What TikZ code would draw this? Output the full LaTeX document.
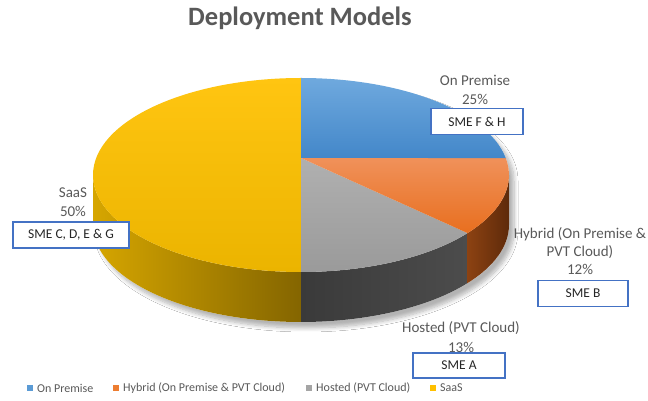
\documentclass[tikz,border=0pt]{standalone}
\usepackage{fontspec}
\setmainfont{Carlito}
\usetikzlibrary{calc,shadows.blur}
\definecolor{txtgray}{HTML}{595959}
\definecolor{boxblue}{HTML}{4472C4}
\definecolor{legblue}{HTML}{5B9BD5}
\definecolor{legorange}{HTML}{ED7D31}
\definecolor{leggray}{HTML}{A5A5A5}
\definecolor{legyellow}{HTML}{FFC000}
\tikzset{
  lbl/.style={text=txtgray, align=center, font=\fontsize{15}{19}\selectfont, inner sep=0pt},
  smebox/.style={draw=boxblue, line width=1.6pt, fill=white, text=black!85, font=\fontsize{13.5}{16}\selectfont, minimum height=26pt, inner sep=0pt},
  legtxt/.style={text=txtgray, font=\fontsize{12}{14}\selectfont, anchor=west, inner sep=0pt},
  legsq/.style={minimum size=6pt, inner sep=0pt},
  er/.style={x radius=208, y radius=97}
}
\begin{document}
\begin{tikzpicture}[x=1pt,y=1pt]
\useasboundingbox (0,0) rectangle (648,401);
\fill[white] (0,0) rectangle (648,401);
\coordinate (C) at (301,226);
\coordinate (P) at (301,243);
\def\ta{10.09}
\def\tb{-36.8}
% shadow body
\fill[white, blur shadow={shadow xshift=5pt,shadow yshift=-6pt,shadow opacity=30,shadow blur steps=8,shadow blur radius=4pt}]
  ($(C)+(180:208 and 97)$) arc[start angle=180,end angle=0,er] -- ++(0,-50) arc[start angle=0,end angle=-180,er] -- cycle;
% sides
\shade[left color={rgb,255:red,214;green,166;blue,0}, right color={rgb,255:red,132;green,101;blue,0}]
  ($(C)+(180:208 and 97)$) arc[start angle=180,end angle=270,er] -- ++(0,-50) arc[start angle=270,end angle=180,er] -- cycle;
\shade[left color={rgb,255:red,58;green,58;blue,58}, right color={rgb,255:red,76;green,76;blue,76}]
  ($(C)+(270:208 and 97)$) arc[start angle=270,end angle=360+\tb,er] -- ++(0,-50) arc[start angle=360+\tb,end angle=270,er] -- cycle;
\shade[left color={rgb,255:red,140;green,66;blue,18}, right color={rgb,255:red,94;green,42;blue,10}]
  ($(C)+(\tb:208 and 97)$) arc[start angle=\tb,end angle=0,er] -- ++(0,-50) arc[start angle=0,end angle=\tb,er] -- cycle;
% tops
\shade[top color={rgb,255:red,255;green,197;blue,17}, bottom color={rgb,255:red,235;green,180;blue,0}]
  (P) -- ($(C)+(270:208 and 97)$) arc[start angle=270,end angle=90,er] -- cycle;
\shade[top color={rgb,255:red,176;green,176;blue,176}, bottom color={rgb,255:red,154;green,154;blue,154}]
  (P) -- ($(C)+(-90:208 and 97)$) arc[start angle=-90,end angle=\tb,er] -- cycle;
\shade[top color={rgb,255:red,240;green,145;blue,90}, bottom color={rgb,255:red,232;green,111;blue,31}]
  (P) -- ($(C)+(\tb:208 and 97)$) arc[start angle=\tb,end angle=\ta,er] -- cycle;
\shade[top color={rgb,255:red,111;green,169;blue,222}, bottom color={rgb,255:red,67;green,135;blue,201}]
  (P) -- ($(C)+(\ta:208 and 97)$) arc[start angle=\ta,end angle=90,er] -- cycle;
% title
\node[text=txtgray, font=\bfseries\fontsize{26.5}{30}\selectfont, inner sep=0pt] (title) at (300,383) {Deployment Models};
% labels
\node[lbl] (lop) at (475,311.5) {On Premise\\25\%};
\node[smebox, minimum width=92pt] (bop) at (477,279.5) {SME F \& H};
\node[lbl] (lsaas) at (73,198.5) {SaaS\\50\%};
\node[smebox, minimum width=116pt] (bsaas) at (71,166) {SME C, D, E \& G};
\node[lbl, font=\fontsize{15}{18}\selectfont] (lhyb) at (580,150) {Hybrid (On Premise \&\\PVT Cloud)\\12\%};
\node[smebox, minimum width=90pt] (bhyb) at (583,107.5) {SME B};
\node[lbl, font=\fontsize{15}{20}\selectfont] (lhost) at (461,64) {Hosted (PVT Cloud)\\13\%};
\node[smebox, minimum width=92pt, minimum height=25pt] (bhost) at (459,35.5) {SME A};
% legend
\node[legsq, fill=legblue] (s1) at (30,13) {};
\node[legtxt] (t1) at (37,13) {On Premise};
\node[legsq, fill=legorange] (s2) at (116,13) {};
\node[legtxt] (t2) at (123,13) {Hybrid (On Premise \& PVT Cloud)};
\node[legsq, fill=leggray] (s3) at (309,13) {};
\node[legtxt] (t3) at (316,13) {Hosted (PVT Cloud)};
\node[legsq, fill=legyellow] (s4) at (433,13) {};
\node[legtxt] (t4) at (440,13) {SaaS};
\end{tikzpicture}
\end{document}
